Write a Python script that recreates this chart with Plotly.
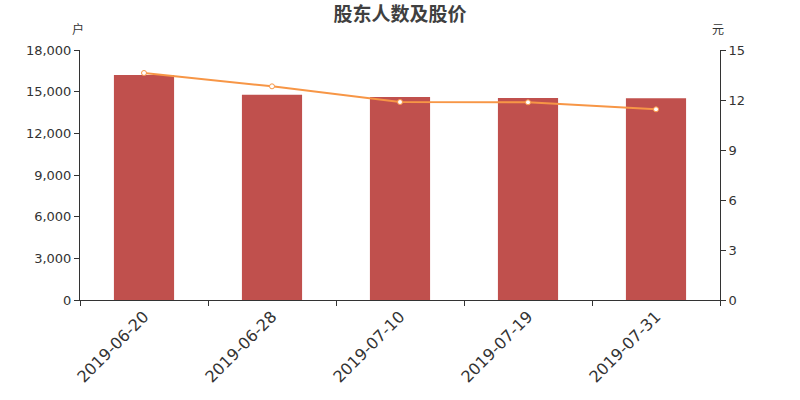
import plotly.graph_objects as go

dates = ["2019-06-20", "2019-06-28", "2019-07-10", "2019-07-19", "2019-07-31"]
holders = [16200, 14780, 14620, 14550, 14520]
prices = [13.62, 12.82, 11.88, 11.86, 11.44]

fig = go.Figure()
fig.add_trace(go.Bar(x=dates, y=holders, marker=dict(color="#c0504d", line=dict(width=0)),
                     width=0.47, yaxis="y", name="股东人数"))
fig.add_trace(go.Scatter(x=dates, y=prices, yaxis="y2", mode="lines+markers",
                         line=dict(color="#f79646", width=2),
                         marker=dict(symbol="circle", size=5, color="white",
                                     line=dict(color="#f79646", width=1)),
                         name="股价"))

font_fam = "DejaVu Sans, Noto Sans CJK SC, sans-serif"
fig.update_layout(
    width=800, height=400,
    margin=dict(l=80, r=80, t=50, b=100, autoexpand=False),
    plot_bgcolor="white", paper_bgcolor="white",
    showlegend=False,
    font=dict(family=font_fam, color="#333333", size=13),
    title=dict(text="<b>股东人数及股价</b>", x=0.5, xanchor="center", y=1 - 14 / 400, yanchor="middle",
               font=dict(size=19, color="#404040", family="Noto Sans CJK SC, sans-serif")),
    xaxis=dict(type="category", showline=True, linecolor="#333333", linewidth=1,
               ticks="outside", ticklen=5, tickcolor="#333333", tickangle=-45,
               tickfont=dict(size=16, color="#333333"), showgrid=False,
               tickson="boundaries", automargin=False),
    yaxis=dict(range=[0, 18000], tickvals=[0, 3000, 6000, 9000, 12000, 15000, 18000],
               tickformat=",d", showline=True, linecolor="#333333", ticks="outside",
               ticklen=5, tickcolor="#333333", showgrid=False, zeroline=False, automargin=False),
    yaxis2=dict(range=[0, 15], tickvals=[0, 3, 6, 9, 12, 15], overlaying="y", side="right",
                showline=True, linecolor="#333333", ticks="outside", ticklen=5,
                tickcolor="#333333", showgrid=False, zeroline=False, automargin=False),
    annotations=[
        dict(text="户", xref="paper", yref="paper", x=0, y=1, xshift=-2, yshift=22,
             xanchor="center", yanchor="middle",
             showarrow=False, font=dict(size=12, color="#333333", family="Noto Sans CJK SC")),
        dict(text="元", xref="paper", yref="paper", x=1, y=1, xshift=-2, yshift=22,
             xanchor="center", yanchor="middle",
             showarrow=False, font=dict(size=12, color="#333333", family="Noto Sans CJK SC")),
    ],
)

fig.write_html("out.html", config={"displayModeBar": False},
               post_script="document.body.style.margin='0';")
